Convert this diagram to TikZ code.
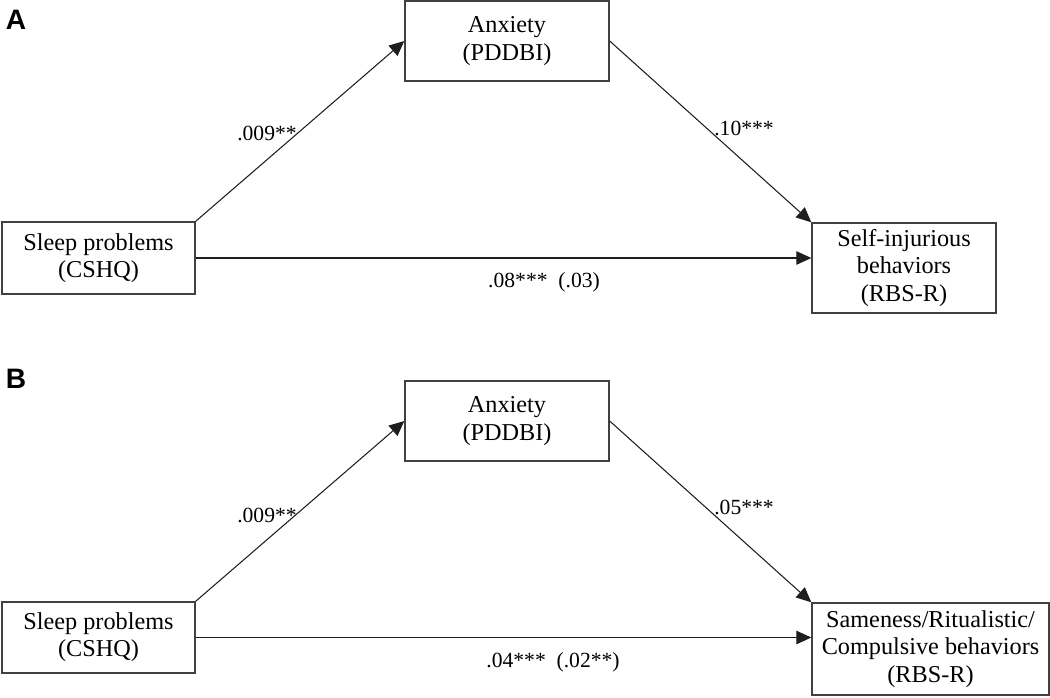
\documentclass[tikz,border=0pt]{standalone}
\usepackage{fontspec}
\setmainfont{Liberation Serif}
\newfontfamily\panelfont{Liberation Sans}
\usetikzlibrary{arrows.meta, positioning, calc}
\definecolor{lineGray}{RGB}{30, 30, 30}
\definecolor{boxGray}{RGB}{65, 65, 65}

\begin{document}
\begin{tikzpicture}[x=0.02cm, y=-0.02cm,
    box/.style={draw=boxGray, line width=0.8pt, align=center, inner sep=0pt, font=\fontsize{13.8}{15.5}\selectfont},
    effect/.style={-{Triangle[length=0.3cm, width=0.27cm]}, line width=0.6pt, lineGray},
    coef/.style={font=\fontsize{12.3}{14}\selectfont, inner sep=0pt},
    panel/.style={font=\panelfont\bfseries\fontsize{16}{18}\selectfont, inner sep=0pt}]
            \useasboundingbox (0,0) rectangle (1050,697);

            % Panel A
            \node[panel] (labA) at (16,20) {A};
            \node[box, minimum width=4.08cm, minimum height=1.6cm] (anxA) at (507,41) {Anxiety\\(PDDBI)};
            \node[box, minimum width=3.86cm, minimum height=1.44cm] (sleepA) at (98.5,258) {Sleep problems\\(CSHQ)};
            \node[box, minimum width=3.68cm, minimum height=1.8cm] (selfA) at (904,268) {Self-injurious\\behaviors\\(RBS-R)};

            \draw[effect] (sleepA.north east) -- (anxA.west);
            \draw[effect] (anxA.east) -- (selfA.north west);
            \draw[effect] (sleepA.east) -- (sleepA.east -| selfA.west);

            \node[coef] (aA) at (267,133) {.009**};
            \node[coef] (bA) at (744,128) {.10***};
            \node[coef] (cA) at (544,282) {.08***~~(.03)};

            % Panel B
            \node[panel] (labB) at (16,379) {B};
            \node[box, minimum width=4.08cm, minimum height=1.6cm] (anxB) at (507,421) {Anxiety\\(PDDBI)};
            \node[box, minimum width=3.86cm, minimum height=1.42cm] (sleepB) at (98.5,637.5) {Sleep problems\\(CSHQ)};
            \node[box, minimum width=4.74cm, minimum height=1.84cm] (sameB) at (930.5,649) {Sameness/Ritualistic/\\Compulsive behaviors\\(RBS-R)};

            \draw[effect] (sleepB.north east) -- (anxB.west);
            \draw[effect] (anxB.east) -- (sameB.north west);
            \draw[effect] (sleepB.east) -- (sleepB.east -| sameB.west);

            \node[coef] (aB) at (267,515) {.009**};
            \node[coef] (bB) at (744,507) {.05***};
            \node[coef] (cB) at (553,662) {.04***~~(.02**)};
        \end{tikzpicture}
\end{document}
